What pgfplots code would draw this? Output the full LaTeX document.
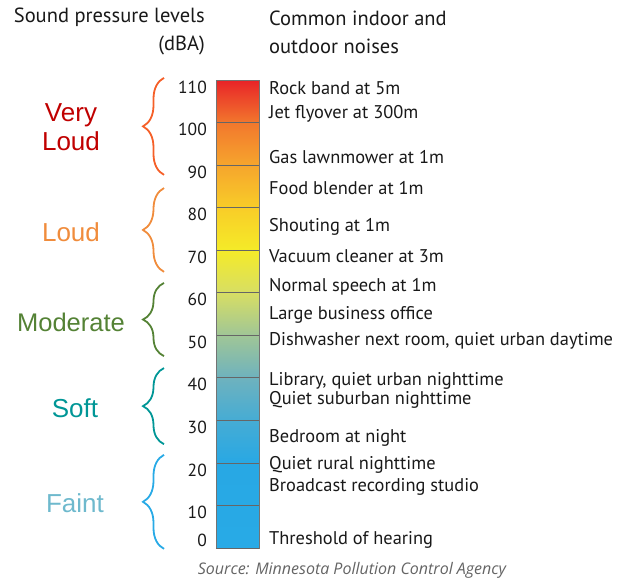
\documentclass[border=0pt]{standalone}
\usepackage{pgfplots}
\pgfplotsset{compat=1.18}
\usepackage{fontspec}
\setmainfont{PT Sans}
\newfontfamily\catfont{Liberation Sans}
\newfontfamily\srcfont{Open Sans}
\usetikzlibrary{decorations.pathreplacing}
\definecolor{vlText}{RGB}{192,0,0}
\definecolor{vlBrace}{RGB}{245,95,40}
\definecolor{ldCol}{RGB}{240,140,60}
\definecolor{mdCol}{RGB}{84,130,53}
\definecolor{sfCol}{RGB}{0,150,150}
\definecolor{ftText}{RGB}{110,185,205}
\definecolor{ftBrace}{RGB}{40,170,230}
\definecolor{srcCol}{RGB}{100,100,100}
\definecolor{txtCol}{RGB}{25,25,25}
\begin{document}
\begin{tikzpicture}
\begin{axis}[
  scale only axis, width=43bp, height=468bp,
  xmin=216, xmax=259, ymin=0, ymax=110,
  clip=false, axis on top,
  xtick=\empty,
  ytick={10,20,...,110},
  extra y ticks={0},
  extra y tick style={yticklabel style={yshift=15bp}},
  major tick length=0pt,
  ymajorgrids, grid style={black!60, line width=0.65pt},
  axis line style={black!55, line width=0.6pt},
  /pgf/number format/assume math mode=true,
  yticklabel style={font=\fontsize{17.5bp}{20bp}\selectfont, text=txtCol, anchor=east, inner sep=0pt, xshift=-9bp, yshift=-7bp},
  colormap={sound}{rgb255(0)=(40,170,230) rgb255(20)=(40,168,228) rgb255(30)=(70,172,212) rgb255(40)=(110,178,190) rgb255(50)=(160,198,150) rgb255(60)=(215,222,100) rgb255(70)=(245,235,40) rgb255(80)=(248,205,40) rgb255(90)=(246,165,45) rgb255(100)=(242,120,45) rgb255(110)=(232,35,40)},
  point meta min=0, point meta max=110,
]
\addplot[surf, shader=interp, mesh/rows=12, mesh/cols=2, point meta=explicit] coordinates {
 (216,0) [0] (259,0) [0]
 (216,10) [10] (259,10) [10]
 (216,20) [20] (259,20) [20]
 (216,30) [30] (259,30) [30]
 (216,40) [40] (259,40) [40]
 (216,50) [50] (259,50) [50]
 (216,60) [60] (259,60) [60]
 (216,70) [70] (259,70) [70]
 (216,80) [80] (259,80) [80]
 (216,90) [90] (259,90) [90]
 (216,100) [100] (259,100) [100]
 (216,110) [110] (259,110) [110]
};
% bounding box
\path (axis cs:0,-7.52) rectangle (axis cs:631,128.8);
% headers
\node[txtCol, anchor=east, align=right, inner sep=0pt, font=\fontsize{20.5bp}{28bp}\selectfont] at (axis cs:205,121.3) {Sound pressure levels\\(dBA)};
\node[txtCol, anchor=west, align=left, inner sep=0pt, font=\fontsize{20.5bp}{28bp}\selectfont] at (axis cs:269,121.3) {Common indoor and\\outdoor noises};
% noise labels
\begin{scope}[every node/.style={text=txtCol, anchor=west, inner sep=0pt, font=\fontsize{18.4bp}{20bp}\selectfont}]
\node at (axis cs:269,108.1) {Rock band at 5m};
\node at (axis cs:269,102.0) {Jet flyover at 300m};
\node at (axis cs:269,91.9) {Gas lawnmower at 1m};
\node at (axis cs:269,84.6) {Food blender at 1m};
\node at (axis cs:269,75.4) {Shouting at 1m};
\node at (axis cs:269,68.6) {Vacuum cleaner at 3m};
\node at (axis cs:269,61.3) {Normal speech at 1m};
\node at (axis cs:269,54.8) {Large business office};
\node at (axis cs:269,48.7) {Dishwasher next room, quiet urban daytime};
\node at (axis cs:269,39.2) {Library, quiet urban nighttime};
\node at (axis cs:269,34.8) {Quiet suburban nighttime};
\node at (axis cs:269,25.9) {Bedroom at night};
\node at (axis cs:269,19.5) {Quiet rural nighttime};
\node at (axis cs:269,14.3) {Broadcast recording studio};
\node at (axis cs:269,1.9) {Threshold of hearing};
\end{scope}
% braces
\begin{scope}[line width=1.8pt, decoration={brace, amplitude=21bp}]
\draw[vlBrace, decorate] (axis cs:164,87.7) -- (axis cs:164,110.5);
\draw[ldCol, decorate] (axis cs:164,64.9) -- (axis cs:164,84.6);
\draw[mdCol, decorate] (axis cs:164,45.1) -- (axis cs:164,62.3);
\draw[sfCol, decorate] (axis cs:164,24.4) -- (axis cs:164,42.3);
\draw[ftBrace, decorate] (axis cs:164,-0.2) -- (axis cs:164,21.9);
\end{scope}
% category labels
\begin{scope}[every node/.style={inner sep=0pt, font=\catfont\fontsize{26bp}{29bp}\selectfont, align=center}]
\node[vlText] at (axis cs:71,98.8) {Very\\Loud};
\node[ldCol] at (axis cs:71,74.3) {Loud};
\node[mdCol, font=\catfont\fontsize{25.5bp}{29bp}\selectfont] at (axis cs:71,53.1) {Moderate};
\node[sfCol] at (axis cs:75,32.9) {Soft};
\node[ftText] at (axis cs:75,10.6) {Faint};
\end{scope}
% source
\node[srcCol, inner sep=0pt, font=\srcfont\itshape\fontsize{16bp}{18bp}\selectfont] at (axis cs:352,-5.17) {Source: Minnesota Pollution Control Agency};
\end{axis}
\end{tikzpicture}
\end{document}
